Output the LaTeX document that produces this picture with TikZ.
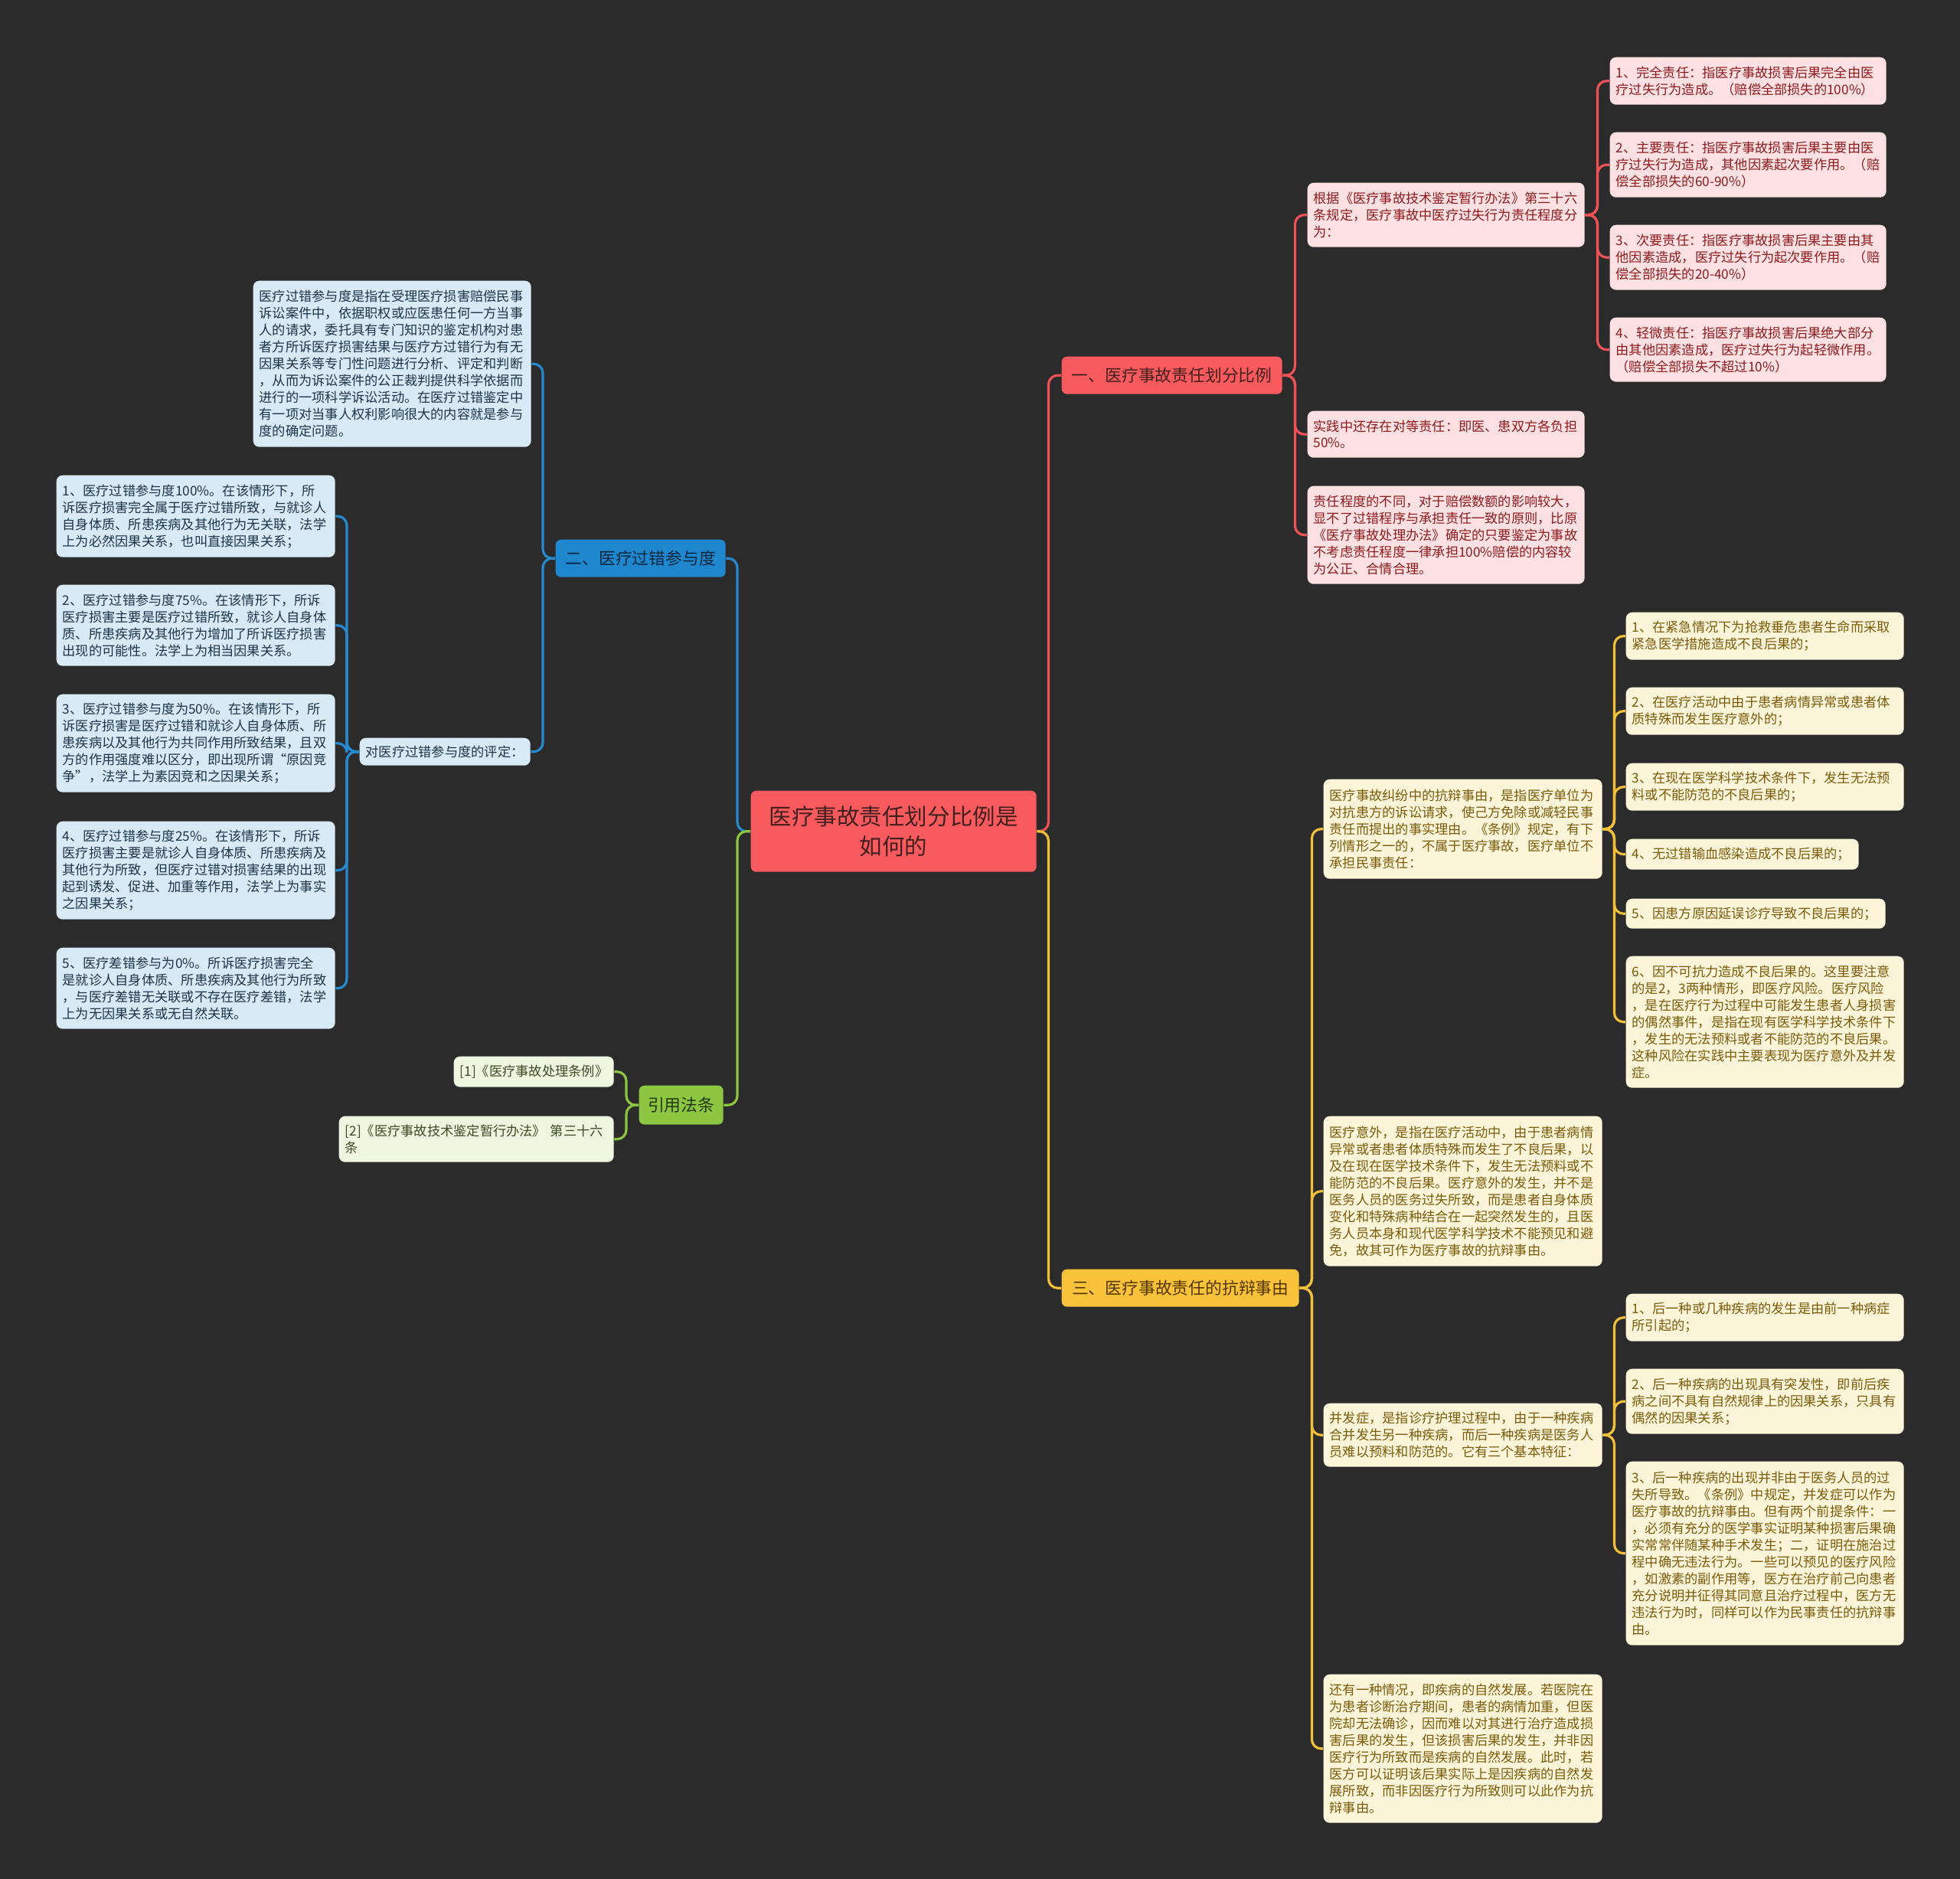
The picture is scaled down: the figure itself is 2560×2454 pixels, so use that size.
\documentclass[tikz,border=0pt]{standalone}
\usepackage{fontspec}
\setmainfont{Noto Sans CJK SC}
\definecolor{bg}{HTML}{2B2B2B}
\definecolor{redfill}{HTML}{F85A5E}
\definecolor{redtext}{HTML}{43201F}
\definecolor{redline}{HTML}{EE5257}
\definecolor{pinkfill}{HTML}{FDE1E2}
\definecolor{pinktext}{HTML}{8E1B1F}
\definecolor{bluefill}{HTML}{1F87CD}
\definecolor{bluetext}{HTML}{0B2640}
\definecolor{blueline}{HTML}{2789CF}
\definecolor{lbluefill}{HTML}{D7EAF6}
\definecolor{lbluetext}{HTML}{1D3548}
\definecolor{yelfill}{HTML}{F8C33A}
\definecolor{yeltext}{HTML}{553600}
\definecolor{yelline}{HTML}{F2C038}
\definecolor{lyelfill}{HTML}{FDF5D9}
\definecolor{lyeltext}{HTML}{7B5B0B}
\definecolor{grnfill}{HTML}{8DC641}
\definecolor{grntext}{HTML}{24380C}
\definecolor{grnline}{HTML}{8DC641}
\definecolor{lgrnfill}{HTML}{EEF6DF}
\definecolor{lgrntext}{HTML}{3D4A25}
\tikzset{
  leaf/.style={rounded corners=0.08cm, inner xsep=0.08cm, inner ysep=0pt, align=left,
    font=\fontsize{4.9pt}{6.25pt}\selectfont},
  pinkleaf/.style={leaf, fill=pinkfill, text=pinktext},
  blueleaf/.style={leaf, fill=lbluefill, text=lbluetext},
  yelleaf/.style={leaf, fill=lyelfill, text=lyeltext},
  grnleaf/.style={leaf, fill=lgrnfill, text=lgrntext},
  mainbox/.style={rounded corners=0.07cm, inner xsep=0.08cm, inner ysep=0pt, align=center},
  branch/.style={mainbox, font=\fontsize{6.2pt}{7.5pt}\selectfont},
  centerbox/.style={mainbox, fill=redfill, text=redtext, font=\fontsize{8.4pt}{11pt}\selectfont},
  conn/.style={line width=0.9pt, rounded corners=0.12cm},
}
\newcommand\mmbox[7]{%
  \pgfmathsetlengthmacro\mmw{(#5)*0.01cm}%
  \pgfmathsetlengthmacro\mmtw{(#5-16)*0.01cm}%
  \pgfmathsetlengthmacro\mmh{(#6)*0.01cm}%
  \node[#2, anchor=north west, minimum width=\mmw, minimum height=\mmh, text width=\mmtw] (#1) at (#3,#4) {#7};%
}
\begin{document}
\begin{tikzpicture}[x=0.01cm,y=-0.01cm]
\fill[bg] (0,0) rectangle (2560,2454);
\useasboundingbox (0,0) rectangle (2560,2454);

% center and branches
\mmbox{center}{centerbox}{980}{1032}{373}{106}{医疗事故责任划分比例是\\如何的}
\mmbox{rb}{branch, fill=redfill, text=redtext}{1386}{465}{288}{49}{一、医疗事故责任划分比例}
\mmbox{bb}{branch, fill=bluefill, text=bluetext}{725}{704}{222}{49}{二、医疗过错参与度}
\mmbox{yb}{branch, fill=yelfill, text=yeltext}{1386}{1657}{310}{49}{三、医疗事故责任的抗辩事由}
\mmbox{gb}{branch, fill=grnfill, text=grntext}{834}{1417}{110}{51}{引用法条}

% red branch
\mmbox{r1}{pinkleaf}{1707}{238}{362}{84}{根据《医疗事故技术鉴定暂行办法》第三十六\\条规定，医疗事故中医疗过失行为责任程度分\\为：}
\mmbox{r2}{pinkleaf}{1707}{536}{362}{61}{实践中还存在对等责任：即医、患双方各负担\\50\%。}
\mmbox{r3}{pinkleaf}{1707}{634}{362}{128}{责任程度的不同，对于赔偿数额的影响较大，\\显不了过错程序与承担责任一致的原则，比原\\《医疗事故处理办法》确定的只要鉴定为事故\\不考虑责任程度一律承担100\%赔偿的内容较\\为公正、合情合理。}
\mmbox{l1}{pinkleaf}{2102}{74}{361}{62}{1、完全责任：指医疗事故损害后果完全由医\\疗过失行为造成。（赔偿全部损失的100\%）}
\mmbox{l2}{pinkleaf}{2102}{172}{361}{85}{2、主要责任：指医疗事故损害后果主要由医\\疗过失行为造成，其他因素起次要作用。（赔\\偿全部损失的60-90\%）}
\mmbox{l3}{pinkleaf}{2102}{293}{361}{85}{3、次要责任：指医疗事故损害后果主要由其\\他因素造成，医疗过失行为起次要作用。（赔\\偿全部损失的20-40\%）}
\mmbox{l4}{pinkleaf}{2102}{414}{361}{84}{4、轻微责任：指医疗事故损害后果绝大部分\\由其他因素造成，医疗过失行为起轻微作用。\\（赔偿全部损失不超过10\%）}

% blue branch
\mmbox{bdesc}{blueleaf}{330}{366}{363}{217}{医疗过错参与度是指在受理医疗损害赔偿民事\\诉讼案件中，依据职权或应医患任何一方当事\\人的请求，委托具有专门知识的鉴定机构对患\\者方所诉医疗损害结果与医疗方过错行为有无\\因果关系等专门性问题进行分析、评定和判断\\，从而为诉讼案件的公正裁判提供科学依据而\\进行的一项科学诉讼活动。在医疗过错鉴定中\\有一项对当事人权利影响很大的内容就是参与\\度的确定问题。}
\mmbox{beval}{blueleaf}{469}{963}{223}{36}{对医疗过错参与度的评定：}
\mmbox{bl1}{blueleaf}{73}{620}{364}{107}{1、医疗过错参与度100\%。在该情形下，所\\诉医疗损害完全属于医疗过错所致，与就诊人\\自身体质、所患疾病及其他行为无关联，法学\\上为必然因果关系，也叫直接因果关系；}
\mmbox{bl2}{blueleaf}{73}{763}{364}{106}{2、医疗过错参与度75\%。在该情形下，所诉\\医疗损害主要是医疗过错所致，就诊人自身体\\质、所患疾病及其他行为增加了所诉医疗损害\\出现的可能性。法学上为相当因果关系。}
\mmbox{bl3}{blueleaf}{73}{906}{364}{128}{3、医疗过错参与度为50\%。在该情形下，所\\诉医疗损害是医疗过错和就诊人自身体质、所\\患疾病以及其他行为共同作用所致结果，且双\\方的作用强度难以区分，即出现所谓“原因竞\\争”，法学上为素因竞和之因果关系；}
\mmbox{bl4}{blueleaf}{73}{1072}{364}{128}{4、医疗过错参与度25\%。在该情形下，所诉\\医疗损害主要是就诊人自身体质、所患疾病及\\其他行为所致，但医疗过错对损害结果的出现\\起到诱发、促进、加重等作用，法学上为事实\\之因果关系；}
\mmbox{bl5}{blueleaf}{73}{1237}{364}{106}{5、医疗差错参与为0\%。所诉医疗损害完全\\是就诊人自身体质、所患疾病及其他行为所致\\，与医疗差错无关联或不存在医疗差错，法学\\上为无因果关系或无自然关联。}

% green branch
\mmbox{g1}{grnleaf}{592}{1379}{209}{40}{[1]《医疗事故处理条例》}
\mmbox{g2}{grnleaf}{442}{1457}{359}{60}{[2]《医疗事故技术鉴定暂行办法》~第三十六\\条}

% yellow branch
\mmbox{y1}{yelleaf}{1728}{1017}{364}{130}{医疗事故纠纷中的抗辩事由，是指医疗单位为\\对抗患方的诉讼请求，使己方免除或减轻民事\\责任而提出的事实理由。《条例》规定，有下\\列情形之一的，不属于医疗事故，医疗单位不\\承担民事责任：}
\mmbox{y2}{yelleaf}{1728}{1457}{364}{196}{医疗意外，是指在医疗活动中，由于患者病情\\异常或者患者体质特殊而发生了不良后果，以\\及在现在医学技术条件下，发生无法预料或不\\能防范的不良后果。医疗意外的发生，并不是\\医务人员的医务过失所致，而是患者自身体质\\变化和特殊病种结合在一起突然发生的，且医\\务人员本身和现代医学科学技术不能预见和避\\免，故其可作为医疗事故的抗辩事由。}
\mmbox{y3}{yelleaf}{1728}{1832}{364}{83}{并发症，是指诊疗护理过程中，由于一种疾病\\合并发生另一种疾病，而后一种疾病是医务人\\员难以预料和防范的。它有三个基本特征：}
\mmbox{y4}{yelleaf}{1728}{2186}{364}{194}{还有一种情况，即疾病的自然发展。若医院在\\为患者诊断治疗期间，患者的病情加重，但医\\院却无法确诊，因而难以对其进行治疗造成损\\害后果的发生，但该损害后果的发生，并非因\\医疗行为所致而是疾病的自然发展。此时，若\\医方可以证明该后果实际上是因疾病的自然发\\展所致，而非因医疗行为所致则可以此作为抗\\辩事由。}
\mmbox{yl1}{yelleaf}{2123}{799}{363}{62}{1、在紧急情况下为抢救垂危患者生命而采取\\紧急医学措施造成不良后果的；}
\mmbox{yl2}{yelleaf}{2123}{897}{363}{62}{2、在医疗活动中由于患者病情异常或患者体\\质特殊而发生医疗意外的；}
\mmbox{yl3}{yelleaf}{2123}{996}{363}{62}{3、在现在医学科学技术条件下，发生无法预\\料或不能防范的不良后果的；}
\mmbox{yl4}{yelleaf}{2123}{1095}{304}{40}{4、无过错输血感染造成不良后果的；}
\mmbox{yl5}{yelleaf}{2123}{1173}{339}{39}{5、因患方原因延误诊疗导致不良后果的；}
\mmbox{yl6}{yelleaf}{2123}{1248}{363}{172}{6、因不可抗力造成不良后果的。这里要注意\\的是2，3两种情形，即医疗风险。医疗风险\\，是在医疗行为过程中可能发生患者人身损害\\的偶然事件，是指在现有医学科学技术条件下\\，发生的无法预料或者不能防范的不良后果。\\这种风险在实践中主要表现为医疗意外及并发\\症。}
\mmbox{yl7}{yelleaf}{2123}{1689}{363}{62}{1、后一种或几种疾病的发生是由前一种病症\\所引起的；}
\mmbox{yl8}{yelleaf}{2123}{1787}{363}{85}{2、后一种疾病的出现具有突发性，即前后疾\\病之间不具有自然规律上的因果关系，只具有\\偶然的因果关系；}
\mmbox{yl9}{yelleaf}{2123}{1908}{363}{240}{3、后一种疾病的出现并非由于医务人员的过\\失所导致。《条例》中规定，并发症可以作为\\医疗事故的抗辩事由。但有两个前提条件：一\\，必须有充分的医学事实证明某种损害后果确\\实常常伴随某种手术发生；二，证明在施治过\\程中确无违法行为。一些可以预见的医疗风险\\，如激素的副作用等，医方在治疗前己向患者\\充分说明并征得其同意且治疗过程中，医方无\\违法行为时，同样可以作为民事责任的抗辩事\\由。}

% connectors
\draw[conn, draw=redline] (center.east) -- ++(15,0) |- (rb.west);
\draw[conn, draw=yelline] (center.east) -- ++(15,0) |- (yb.west);
\draw[conn, draw=blueline] (center.west) -- ++(-17,0) |- (bb.east);
\draw[conn, draw=grnline] (center.west) -- ++(-17,0) |- (gb.east);

\foreach \c in {r1,r2,r3} \draw[conn, draw=redline] (rb.east) -- ++(16,0) |- (\c.west);
\foreach \c in {l1,l2,l3,l4} \draw[conn, draw=redline] (r1.east) -- ++(16,0) |- (\c.west);

\foreach \c in {bdesc,beval} \draw[conn, draw=blueline] (bb.west) -- ++(-16,0) |- (\c.east);
\foreach \c in {bl1,bl2,bl3,bl4,bl5} \draw[conn, draw=blueline] (beval.west) -- ++(-16,0) |- (\c.east);

\foreach \c in {g1,g2} \draw[conn, draw=grnline] (gb.west) -- ++(-16,0) |- (\c.east);

\foreach \c in {y1,y2,y3,y4} \draw[conn, draw=yelline] (yb.east) -- ++(16,0) |- (\c.west);
\foreach \c in {yl1,yl2,yl3,yl4,yl5,yl6} \draw[conn, draw=yelline] (y1.east) -- ++(15,0) |- (\c.west);
\foreach \c in {yl7,yl8,yl9} \draw[conn, draw=yelline] (y3.east) -- ++(15,0) |- (\c.west);
\end{tikzpicture}
\end{document}
